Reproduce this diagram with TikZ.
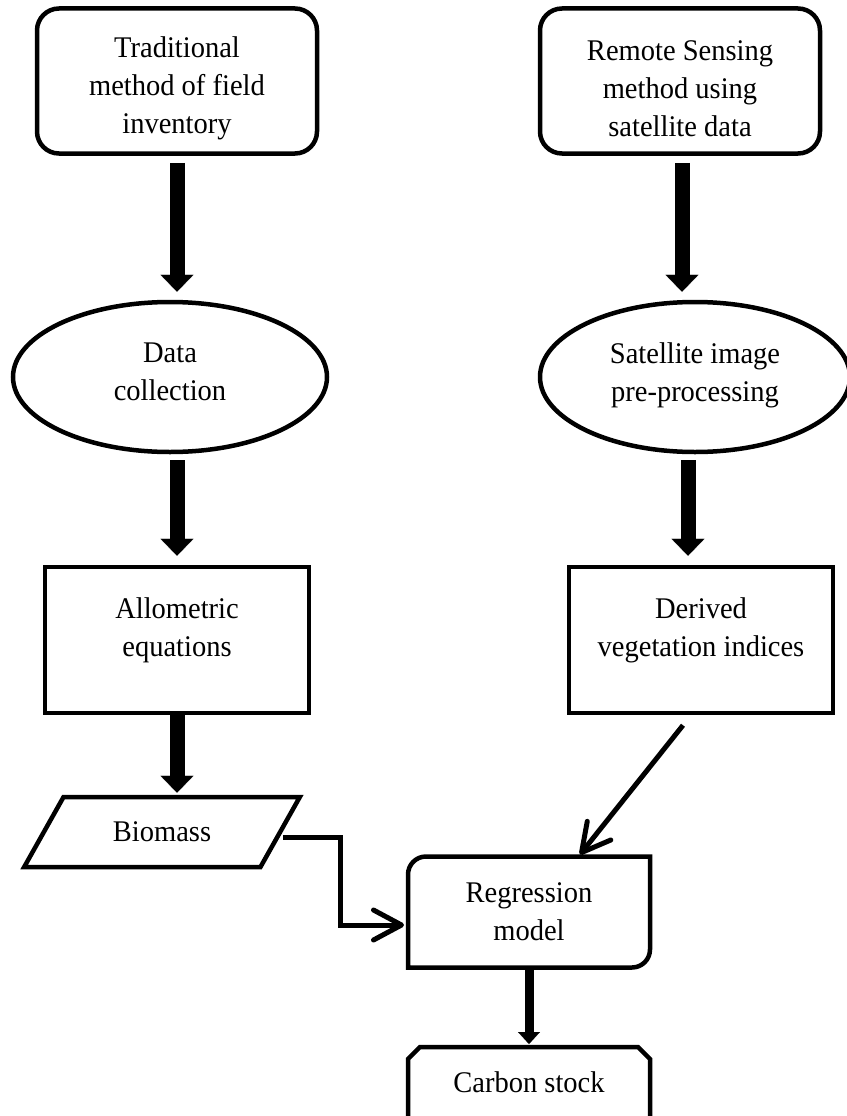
\documentclass[tikz,border=0pt]{standalone}
\usepackage{fontspec}
\setmainfont{Liberation Serif}[FakeStretch=0.95]
\usetikzlibrary{arrows.meta,shapes.geometric,calc}
\tikzset{
    every node/.style = {font=\fontsize{30pt}{38pt}\selectfont,
                    align=center,
                    text=black},
    startbox/.style = {rectangle,
                    rounded corners=22pt,
                    draw=black,
                    line width=4.5pt,
                    minimum width=280pt,
                    minimum height=145pt},
    process/.style = {ellipse,
                    draw=black,
                    line width=4.5pt,
                    minimum height=150pt},
    calcbox/.style = {rectangle,
                    draw=black,
                    line width=4.5pt,
                    minimum width=264pt,
                    minimum height=146pt},
    iobox/.style = {trapezium,
                    trapezium left angle=52,
                    trapezium right angle=128,
                    trapezium stretches=true,
                    draw=black,
                    line width=4.5pt,
                    minimum width=276pt,
                    minimum height=70pt},
    hollow/.style = {rectangle,
                    outer sep=0pt,
                    minimum width=242pt},
    outline/.style = {draw=black,
                    line width=4.5pt},
    bigarrow/.style = {draw=black,
                    line width=15pt,
                    -{Triangle[width=33pt,length=17pt,line width=0.1pt]}},
    smallarrow/.style = {draw=black,
                    line width=9pt,
                    -{Triangle[width=22pt,length=12pt,line width=0.1pt]}},
    thinarrow/.style = {draw=black,
                    line width=5pt,
                    -{Straight Barb[length=28pt,width=30pt,round]}}
}
\begin{document}
\begin{tikzpicture}[x=1pt,y=1pt]
    \useasboundingbox (0,0) rectangle (846,-1116);
    % two starting methods
    \node[startbox]     (trad)      at (177,-81)    {\mbox{}\\[-3pt]Traditional\\method of field\\inventory};
    \node[startbox]     (remote)    at (680,-81)    {\mbox{}\\[-3pt]Remote Sensing\\method using\\satellite data};
    \node[process, minimum width=314pt]  (datacol)  at (170,-377)  {Data\\collection\\[-28pt]\mbox{}};
    \node[process, minimum width=310pt]  (satpre)   at (695,-377)  {Satellite image\\pre-processing\\[-28pt]\mbox{}};
    \node[calcbox]      (allo)      at (177,-640)   {Allometric\\equations\\[-12pt]\mbox{}};
    \node[calcbox]      (derived)   at (701,-640)   {Derived\\vegetation indices\\[-12pt]\mbox{}};
    \node[iobox]        (biomass)   at (162,-832)   {Biomass};
    \node[hollow, minimum height=111pt]  (reg)     at (529,-912)   {Regression\\model};
    \node[hollow, minimum height=70pt]   (carbon)  at (529,-1082)  {Carbon stock};

    % outlines of the two odd boxes
    \draw[outline] ([xshift=18pt]reg.north west) -- (reg.north east)
        -- ([yshift=18pt]reg.south east) arc[start angle=0, end angle=-90, radius=18pt]
        -- (reg.south west) -- ([yshift=-18pt]reg.north west)
        arc[start angle=180, end angle=90, radius=18pt] -- cycle;
    \draw[outline] ([yshift=-40pt]carbon.south west) -- ([yshift=-12pt]carbon.north west)
        -- ([xshift=12pt]carbon.north west) -- ([xshift=-12pt]carbon.north east)
        -- ([yshift=-12pt]carbon.north east) -- ([yshift=-40pt]carbon.south east) -- cycle;

    % arrows
    \path[bigarrow, shorten <=7pt, shorten >=8pt] (trad.south) -- (trad.south |- datacol.north);
    \path[bigarrow, shorten <=7pt, shorten >=8pt] ([xshift=2pt]remote.south) -- ([xshift=2pt]remote.south |- satpre.north);
    \path[bigarrow, shorten <=6pt, shorten >=9pt] ([xshift=7pt]datacol.south) -- ([xshift=7pt]datacol.south |- allo.north);
    \path[bigarrow, shorten <=6pt, shorten >=9pt] ([xshift=-7pt]satpre.south) -- ([xshift=-7pt]satpre.south |- derived.north);
    \path[bigarrow, shorten >=2pt] (allo.south) -- (allo.south |- biomass.north);
    \path[smallarrow, shorten >=3pt] (reg.south) -- (carbon.north);
    \path[thinarrow] ([xshift=-18pt,yshift=-10pt]derived.south) -- ([xshift=51pt,yshift=2pt]reg.north);
    \path[thinarrow, shorten >=4pt] ([xshift=121pt,yshift=-5pt]biomass.center) -- ++(57,0) |- ([yshift=-13pt]reg.west);
\end{tikzpicture}
\end{document}
